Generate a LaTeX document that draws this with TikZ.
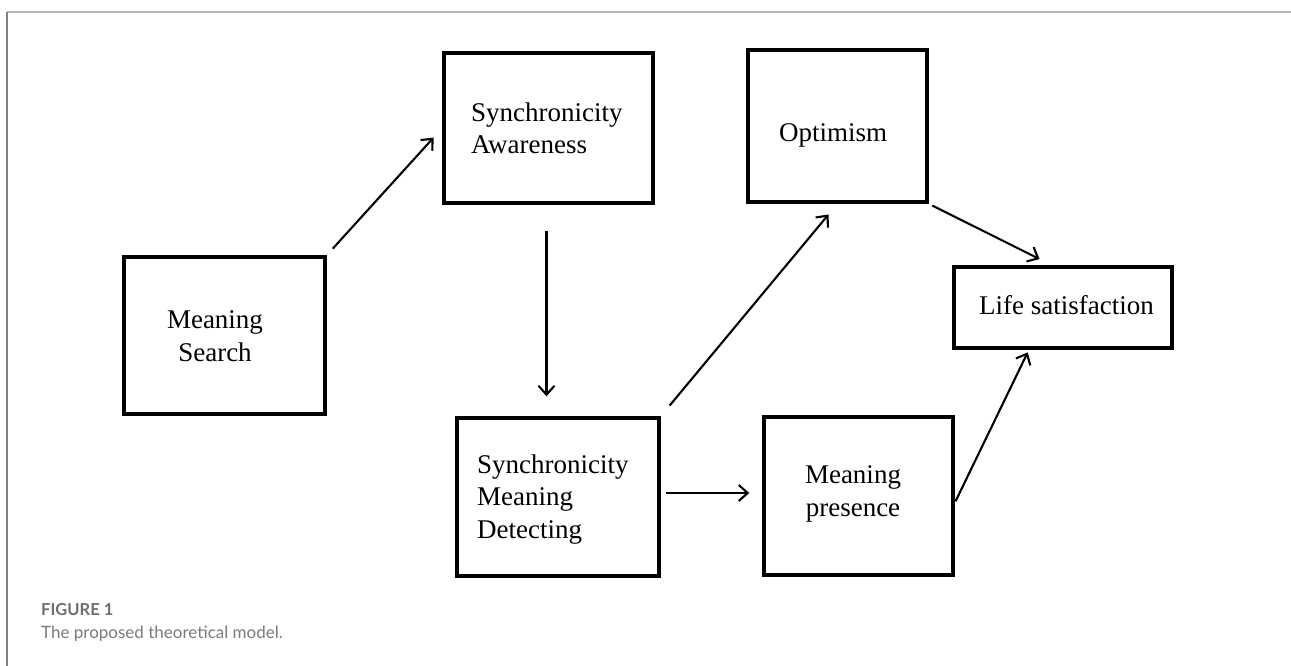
\documentclass[tikz,border=0pt]{standalone}
\usepackage{fontspec}
\setmainfont{Liberation Serif}
\newfontfamily\capfont{Lato}
\usetikzlibrary{arrows.meta,calc}
\definecolor{framegray}{HTML}{B4B4B4}
\definecolor{sidegray}{HTML}{808080}
\definecolor{capgray}{HTML}{6E6E6E}
\definecolor{captxt}{HTML}{7A7A7A}
\tikzset{
  box/.style={draw=black, line width=3.4pt, rectangle, inner sep=0pt},
  lbl/.style={inner sep=0pt, font=\fontsize{27}{32.5}\selectfont},
  conn/.style={line width=2.1pt, -{Straight Barb[length=9pt,width=16pt,line width=2.1pt]}},
  capA/.style={inner sep=0pt, anchor=base west, text=capgray, font=\capfont\bfseries\fontsize{16.5}{20}\selectfont},
  capB/.style={inner sep=0pt, anchor=base west, text=captxt, font=\capfont\fontsize{17}{21}\selectfont}
}
\begin{document}
\begin{tikzpicture}[x=1pt,y=-1pt]
\useasboundingbox (0,0) rectangle (1291,666);
% frame lines
\draw[framegray, line width=1.6pt] (7,12) -- (1291,12);
\draw[sidegray, line width=1.4pt] (7,12) -- (7,666);
% boxes
\node[box, minimum width=201pt, minimum height=157pt] (ms) at (224.5,335.5) {};
\node[box, minimum width=209pt, minimum height=150pt] (sa) at (548.5,128) {};
\node[box, minimum width=179pt, minimum height=152pt] (op) at (837.5,126) {};
\node[box, minimum width=218pt, minimum height=81pt] (ls) at (1063,307.5) {};
\node[box, minimum width=202pt, minimum height=158pt] (smd) at (558,497) {};
\node[box, minimum width=189pt, minimum height=158pt] (mp) at (858.5,496) {};
% texts (base anchor = baseline of last line)
\node[lbl, anchor=base, align=center] (msT) at (215,361) {Meaning\\Search};
\node[lbl, anchor=base west, align=left] (saT) at (471,154) {Synchronicity\\Awareness};
\node[lbl, anchor=base west] (opT) at (779,142) {Optimism};
\node[lbl, anchor=base west, align=left] (smdT) at (477,538) {Synchronicity\\Meaning\\Detecting};
\node[lbl, anchor=base, align=center] (mpT) at (853,516) {Meaning\\presence};
\node[lbl, anchor=base west] (lsT) at (979,314) {Life satisfaction};
% connectors
\draw[conn, shorten <=9pt, shorten >=13pt] (ms.north east) -- (sa.west);
\draw[conn, shorten <=26pt, shorten >=20pt] ([xshift=-2pt]sa.south) -- ([xshift=-2pt]sa.south |- smd.north);
\draw[conn, shorten <=14pt, shorten >=14pt] (smd.north east) -- (op.south);
\draw[conn, shorten <=5pt, shorten >=13pt] ([yshift=4pt]smd.east) -- ([yshift=4pt]smd.east -| mp.west);
\draw[conn, shorten <=4pt, shorten >=5pt] (op.south east) -- ([xshift=-19pt,yshift=4pt]ls.north);
\draw[conn, shorten <=2pt, shorten >=3pt] ([yshift=-7pt]mp.east) -- ([xshift=-34pt]ls.south);
% caption
\node[capA] (figlabel) at (41,615) {FIGURE 1};
\node[capB] (figcap) at (41,638) {The proposed theoretical model.};
\end{tikzpicture}
\end{document}
